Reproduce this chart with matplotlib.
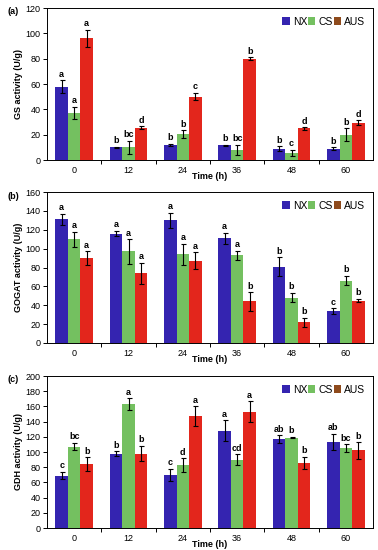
import matplotlib
matplotlib.use("Agg")
import matplotlib.pyplot as plt
from matplotlib.patches import Patch
import numpy as np

plt.rcParams['font.family'] = ['Liberation Sans', 'DejaVu Sans']

times = ["0", "12", "24", "36", "48", "60"]
series = ["NX", "CS", "AUS"]

gs_nx = [58, 10, 12, 11.5, 9, 9]
gs_nx_err = [5, 0.5, 1, 0.5, 2, 1]
gs_cs = [37, 10, 20.5, 8, 5.5, 20]
gs_cs_err = [5, 5, 3, 4, 2.5, 5]
gs_aus = [96, 25.5, 50, 80, 25, 29.5]
gs_aus_err = [7, 1, 3, 1, 1, 2]
gs_let_nx = ["a", "b", "b", "b", "b", "b"]
gs_let_cs = ["a", "bc", "b", "bc", "c", "b"]
gs_let_aus = ["a", "d", "c", "b", "d", "d"]

gogat_nx = [131, 116, 130, 111, 81, 34]
gogat_nx_err = [6, 3, 8, 6, 10, 3]
gogat_cs = [110, 97, 94, 93, 48, 66]
gogat_cs_err = [8, 13, 11, 5, 5, 5]
gogat_aus = [90, 74, 87, 44, 22, 45]
gogat_aus_err = [7, 11, 9, 10, 5, 2]
gogat_let_nx = ["a", "a", "a", "a", "b", "c"]
gogat_let_cs = ["a", "a", "a", "a", "b", "b"]
gogat_let_aus = ["a", "a", "a", "b", "b", "b"]

gdh_nx = [69, 98, 70, 128, 117, 113]
gdh_nx_err = [5, 3, 8, 14, 5, 11]
gdh_cs = [107, 163, 83, 90, 119, 105]
gdh_cs_err = [5, 8, 9, 7, 1, 5]
gdh_aus = [84, 98, 147, 153, 86, 102]
gdh_aus_err = [9, 10, 13, 14, 8, 11]
gdh_let_nx = ["c", "b", "c", "a", "ab", "ab"]
gdh_let_cs = ["bc", "a", "d", "cd", "b", "bc"]
gdh_let_aus = ["b", "b", "a", "a", "b", "b"]

bar_colors = ["#3424b0", "#74c060", "#e3261c"]
legend_colors = ["#3424b0", "#74c060", "#8e4a1c"]

panels = [
    ("(a)", "GS activity (U/g)", 120,
     [gs_nx, gs_cs, gs_aus], [gs_nx_err, gs_cs_err, gs_aus_err],
     [gs_let_nx, gs_let_cs, gs_let_aus]),
    ("(b)", "GOGAT activity (U/g)", 160,
     [gogat_nx, gogat_cs, gogat_aus], [gogat_nx_err, gogat_cs_err, gogat_aus_err],
     [gogat_let_nx, gogat_let_cs, gogat_let_aus]),
    ("(c)", "GDH activity (U/g)", 200,
     [gdh_nx, gdh_cs, gdh_aus], [gdh_nx_err, gdh_cs_err, gdh_aus_err],
     [gdh_let_nx, gdh_let_cs, gdh_let_aus]),
]

W, H = 378, 550
fig = plt.figure(figsize=(W / 100, H / 100), dpi=100)
boxes = [(8, 160), (192, 343), (376, 528)]
left, right = 47, 373

x = np.arange(len(times))
bw = 0.23
for (lab, ylab, ymax, vals, errs, lets), (top, bot) in zip(panels, boxes):
    ax = fig.add_axes([left / W, 1 - bot / H, (right - left) / W, (bot - top) / H])
    for i in range(3):
        xs = x + (i - 1) * bw
        ax.bar(xs, vals[i], bw, color=bar_colors[i], edgecolor='none', zorder=2)
        ax.errorbar(xs, vals[i], yerr=errs[i], fmt='none', ecolor='black',
                    elinewidth=0.8, capsize=1.8, capthick=0.8, zorder=3)
        for xi, v, e, t in zip(xs, vals[i], errs[i], lets[i]):
            ax.text(xi, v + e + ymax * 0.01, t, ha='center', va='bottom',
                    fontsize=6.5, fontweight='bold')
    ax.set_xlim(-0.5, 5.5)
    ax.set_ylim(0, ymax)
    ax.set_yticks(np.arange(0, ymax + 1, 20))
    ax.set_xticks(x)
    ax.set_xticklabels(times)
    ax.set_xticks(np.arange(0.5, 5.5, 1), minor=True)
    ax.tick_params(axis='x', which='major', length=0, labelsize=6.5, pad=4)
    ax.tick_params(axis='x', which='minor', length=3, width=0.7, direction='out')
    ax.tick_params(axis='y', labelsize=6.5, length=3, width=0.7, pad=1.5)
    for s in ax.spines.values():
        s.set_linewidth(0.7)
    ax.set_xlabel("Time (h)", fontsize=6.5, fontweight='bold', labelpad=-2)
    ax.set_ylabel(ylab, fontsize=6.5, fontweight='bold', labelpad=2)
    handles = [Patch(facecolor=c, edgecolor='none') for c in legend_colors]
    ax.legend(handles, series, loc='upper right', ncol=3, frameon=False,
              fontsize=7.5, handlelength=0.7, handleheight=0.7,
              handletextpad=0.3, columnspacing=0.1,
              bbox_to_anchor=(0.99, 0.97), borderaxespad=0)
    fig.text(8 / W, 1 - (top + 4) / H, lab, fontsize=6.5, fontweight='bold',
             va='center', ha='left')

fig.savefig("out.png", dpi=100)
